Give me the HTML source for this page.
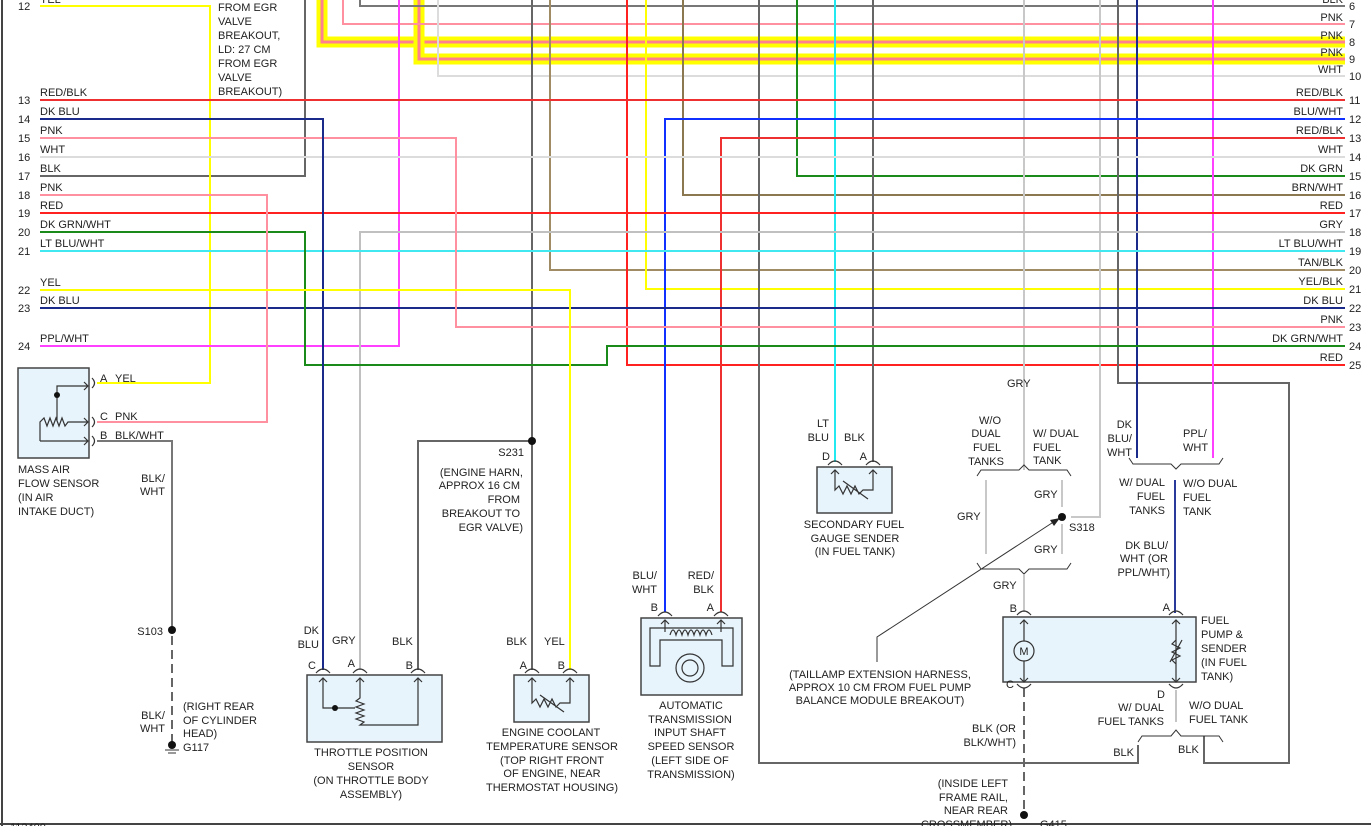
<!DOCTYPE html>
<html><head><meta charset="utf-8"><style>
html,body{margin:0;padding:0;background:#fff;}
svg{display:block;}
text{font-family:"Liberation Sans",Arial,sans-serif;font-size:11px;fill:#222;}
.r{text-anchor:end}.m{text-anchor:middle}
</style></head><body>
<svg width="1371" height="826" viewBox="0 0 1371 826" xmlns="http://www.w3.org/2000/svg">
<g fill="none" stroke-width="2">
<!-- border -->
<line x1="2" y1="0" x2="2" y2="826" stroke="#444"/>
<line x1="0" y1="824" x2="1371" y2="824" stroke="#444"/>
<!-- thick wires -->
<path d="M322 0V42H1345" stroke="#ffff00" stroke-width="11"/>
<path d="M322 0V42H1345" stroke="#ff8090" stroke-width="3"/>
<path d="M419 0V59H1345" stroke="#ffff00" stroke-width="11"/>
<path d="M419 0V59H1345" stroke="#ff8090" stroke-width="3"/>
<!-- top verticals -->
<path d="M40 176H305V0" stroke="#666"/>
<path d="M40 6H210V383H97" stroke="#ffff00"/>
<path d="M343 0V24H1345" stroke="#ff90a0"/>
<path d="M360 0V6H1345" stroke="#777"/>
<path d="M438 0V76H1345" stroke="#dcdcdc"/>
<path d="M399 0V346H40" stroke="#ff40ff"/>
<path d="M532 0V670" stroke="#666"/>
<path d="M550 0V270H1345" stroke="#a08c64"/>
<path d="M627 0V365H1345" stroke="#ff2020"/>
<path d="M646 0V289H1345" stroke="#ffff00"/>
<path d="M683 0V195H1345" stroke="#8b7850"/>
<path d="M759 0V763H1138V745" stroke="#666"/>
<path d="M797 0V176H1345" stroke="#1a8a1a"/>
<path d="M835 0V462" stroke="#22e8f0"/>
<path d="M873 0V462" stroke="#666"/>
<path d="M1024 0V470" stroke="#c8c8c8"/>
<path d="M1100 0V517H1071" stroke="#c8c8c8"/>
<path d="M1118 0V383H1289V763H1204V736" stroke="#666"/>
<path d="M1137 0V458" stroke="#1a2a8a"/>
<path d="M1213 0V458" stroke="#ff40ff"/>
<!-- rows -->
<path d="M40 100H1345" stroke="#ee3030"/>
<path d="M665 612V119H1345" stroke="#1030ff"/>
<path d="M721 612V138H1345" stroke="#ee3030"/>
<path d="M40 157H1345" stroke="#dcdcdc"/>
<path d="M40 213H1345" stroke="#ff2020"/>
<path d="M360 670V232H1345" stroke="#c0c0c0"/>
<path d="M40 251H1345" stroke="#40e8f0"/>
<path d="M40 308H1345" stroke="#1a2a8a"/>
<path d="M40 138H456V327H1345" stroke="#ff90a0"/>
<path d="M40 232H305V365H607V346H1345" stroke="#1a8a1a"/>
<path d="M40 119H323V670" stroke="#1a2a8a"/>
<path d="M40 195H267V422H97" stroke="#ff90a0"/>
<path d="M40 290H570V670" stroke="#ffff00"/>
<path d="M97 441H172V630" stroke="#777"/>
<path d="M172 636V745" stroke="#666" stroke-dasharray="9,5"/>
<path d="M418 670V441H532" stroke="#666"/>
<!-- fuel area -->
<path d="M986 480V554M1062 480V507M1062 524V554M1024 575V612" stroke="#c8c8c8"/>
<path d="M1175 480V613" stroke="#2a3a9a"/>
<path d="M1024 688V815" stroke="#666" stroke-dasharray="9,5"/>
<path d="M1176 690V722" stroke="#888" stroke-width="1"/>
</g>
<g fill="none" stroke="#333" stroke-width="1">
<!-- braces -->
<path d="M977 476L981 470H1019L1024 465L1029 470H1067L1071 476"/>
<path d="M977 563L981 569H1019L1024 574L1029 569H1067L1071 563"/>
<path d="M1129 458L1133 464H1171L1176 469L1181 464H1219L1223 458"/>
<path d="M1138 742L1142 736H1171L1176 730L1181 736H1219L1223 742"/>
<!-- leader -->
<path d="M877 662V637L1055 521"/>
</g>
<polygon points="1060,518 1050,520 1054,526" fill="#222"/>
<!-- boxes -->
<g stroke="#444" stroke-width="1.5" fill="#e8f4fc">
<rect x="18" y="368" width="71" height="90"/>
<rect x="307" y="675" width="135" height="67"/>
<rect x="514" y="675" width="75" height="47"/>
<rect x="641" y="618" width="101" height="77"/>
<rect x="817" y="467" width="75" height="46"/>
<rect x="1003" y="617" width="193" height="65"/>
</g>
<g fill="none" stroke="#333" stroke-width="1.2">
<!-- connector arcs -->
<path d="M92 378Q97 383 92 388M92 417Q97 422 92 427M92 436Q97 441 92 446"/>
<path d="M316 673Q323 665 330 673M353 673Q360 665 367 673M411 673Q418 665 425 673"/>
<path d="M525 673Q532 665 539 673M563 673Q570 665 577 673"/>
<path d="M658 616Q665 608 672 616M714 616Q721 608 728 616"/>
<path d="M828 465Q835 457 842 465M866 465Q873 457 880 465"/>
<path d="M1017 615Q1024 607 1031 615M1169 615Q1176 607 1183 615"/>
<path d="M1017 684Q1024 692 1031 684M1169 684Q1176 692 1183 684"/>
<!-- MAF internals -->
<path d="M57 420V386H88M84 382L88 386L84 390M40 441V422L44 418L47 426L50 418L53 426L56 418L59 426L62 418L65 426L68 422H88M84 418L88 422L84 426M40 441H88M84 437L88 441L84 445M57 386V417"/>
<!-- TPS -->
<path d="M323 678V708H355M360 678V698L356 701L364 704L356 707L364 710L356 713L364 716L356 719L364 722L360 725H418V678M319 682L323 678L327 682M356 682L360 678L364 682M414 682L418 678L422 682"/>
<!-- ECT -->
<path d="M532 678V703L536 699L540 707L544 699L548 707L552 699L556 707L560 703H570V678M528 682L532 678L536 682M566 682L570 678L574 682M540 695L564 712"/>
<!-- secondary -->
<path d="M835 470V490L839 486L843 494L847 486L851 494L855 486L859 494L863 490H873V470M831 474L835 470L839 474M869 474L873 470L877 474M843 481L868 499"/>
<!-- trans -->
<path d="M665 620V632M721 620V632M661 624L665 620L669 624M717 624L721 620L725 624M650 628H733V666H722V640H660V666H650Z"/>
<path d="M670 635Q673 625 676 635Q679 625 682 635Q685 625 688 635Q691 625 694 635Q697 625 700 635Q703 625 706 635Q709 625 712 635"/>
<circle cx="690" cy="668" r="14"/><circle cx="690" cy="668" r="8"/>
<!-- pump -->
<path d="M1024 620V682M1020 624L1024 620L1028 624M1020 678L1024 682L1028 678"/>
<circle cx="1024" cy="651" r="10" fill="#e8f4fc"/>
<path d="M1176 620V682M1172 624L1176 620L1180 624M1172 678L1176 682L1180 678M1176 640L1172 644L1180 648L1172 652L1180 656L1172 660L1176 664M1170 662L1182 640"/>
</g>
<text x="1024" y="655" class="m" font-size="10">M</text>
<g fill="#111">
<circle cx="57" cy="395" r="3"/><circle cx="335" cy="708" r="3"/>
<circle cx="532" cy="441" r="4"/><circle cx="172" cy="630" r="4"/>
<circle cx="172" cy="745" r="4"/><circle cx="1062" cy="517" r="4"/>
<circle cx="1024" cy="815" r="4"/>
</g>
<path d="M165 750H179M168 753H176" stroke="#333"/>
<!-- left labels -->
<g>
<text x="18" y="10">12</text><text x="40" y="3">YEL</text>
<text x="18" y="104">13</text><text x="40" y="96">RED/BLK</text>
<text x="18" y="123">14</text><text x="40" y="115">DK BLU</text>
<text x="18" y="142">15</text><text x="40" y="134">PNK</text>
<text x="18" y="161">16</text><text x="40" y="153">WHT</text>
<text x="18" y="180">17</text><text x="40" y="172">BLK</text>
<text x="18" y="199">18</text><text x="40" y="191">PNK</text>
<text x="18" y="217">19</text><text x="40" y="209">RED</text>
<text x="18" y="236">20</text><text x="40" y="228">DK GRN/WHT</text>
<text x="18" y="255">21</text><text x="40" y="247">LT BLU/WHT</text>
<text x="18" y="294">22</text><text x="40" y="286">YEL</text>
<text x="18" y="312">23</text><text x="40" y="304">DK BLU</text>
<text x="18" y="350">24</text><text x="40" y="342">PPL/WHT</text>
</g>
<g class="r">
<text x="1343" y="3" class="r">BLK</text>
<text x="1343" y="21" class="r">PNK</text><text x="1343" y="39" class="r">PNK</text>
<text x="1343" y="56" class="r">PNK</text><text x="1343" y="73" class="r">WHT</text>
<text x="1343" y="96" class="r">RED/BLK</text><text x="1343" y="115" class="r">BLU/WHT</text>
<text x="1343" y="134" class="r">RED/BLK</text><text x="1343" y="153" class="r">WHT</text>
<text x="1343" y="172" class="r">DK GRN</text><text x="1343" y="191" class="r">BRN/WHT</text>
<text x="1343" y="209" class="r">RED</text><text x="1343" y="228" class="r">GRY</text>
<text x="1343" y="247" class="r">LT BLU/WHT</text><text x="1343" y="266" class="r">TAN/BLK</text>
<text x="1343" y="285" class="r">YEL/BLK</text><text x="1343" y="304" class="r">DK BLU</text>
<text x="1343" y="323" class="r">PNK</text><text x="1343" y="342" class="r">DK GRN/WHT</text>
<text x="1343" y="361" class="r">RED</text>
</g>
<g>
<text x="1349" y="10">6</text><text x="1349" y="28">7</text><text x="1349" y="46">8</text>
<text x="1349" y="63">9</text><text x="1349" y="80">10</text><text x="1349" y="104">11</text>
<text x="1349" y="123">12</text><text x="1349" y="142">13</text><text x="1349" y="161">14</text>
<text x="1349" y="180">15</text><text x="1349" y="199">16</text><text x="1349" y="217">17</text>
<text x="1349" y="236">18</text><text x="1349" y="255">19</text><text x="1349" y="274">20</text>
<text x="1349" y="293">21</text><text x="1349" y="312">22</text><text x="1349" y="331">23</text>
<text x="1349" y="350">24</text><text x="1349" y="369">25</text>
</g>
<g>
<text x="218" y="11">FROM EGR</text><text x="218" y="25">VALVE</text><text x="218" y="39">BREAKOUT,</text>
<text x="218" y="53">LD: 27 CM</text><text x="218" y="67">FROM EGR</text><text x="218" y="81">VALVE</text>
<text x="218" y="95">BREAKOUT)</text>
<text x="100" y="382">A</text><text x="115" y="382">YEL</text>
<text x="100" y="420">C</text><text x="115" y="420">PNK</text>
<text x="100" y="439">B</text><text x="115" y="439">BLK/WHT</text>
<text x="18" y="473">MASS AIR</text><text x="18" y="487">FLOW SENSOR</text>
<text x="18" y="501">(IN AIR</text><text x="18" y="515">INTAKE DUCT)</text>
<text x="165" y="482" class="r">BLK/</text><text x="165" y="495" class="r">WHT</text>
<text x="163" y="635" class="r">S103</text>
<text x="165" y="719" class="r">BLK/</text><text x="165" y="732" class="r">WHT</text>
<text x="183" y="710">(RIGHT REAR</text><text x="183" y="724">OF CYLINDER</text><text x="183" y="737">HEAD)</text>
<text x="183" y="751">G117</text>
<text x="319" y="634" class="r">DK</text><text x="319" y="648" class="r">BLU</text>
<text x="332" y="644">GRY</text><text x="392" y="645">BLK</text>
<text x="316" y="669" class="r">C</text><text x="355" y="667" class="r">A</text><text x="413" y="669" class="r">B</text>
<text x="371" y="756" class="m">THROTTLE POSITION</text><text x="371" y="770" class="m">SENSOR</text>
<text x="371" y="784" class="m">(ON THROTTLE BODY</text><text x="371" y="798" class="m">ASSEMBLY)</text>
<text x="524" y="456" class="r">S231</text>
<text x="523" y="476" class="r">(ENGINE HARN,</text><text x="520" y="489" class="r">APPROX 16 CM</text>
<text x="520" y="503" class="r">FROM</text><text x="520" y="517" class="r">BREAKOUT TO</text>
<text x="523" y="531" class="r">EGR VALVE)</text>
<text x="527" y="645" class="r">BLK</text><text x="544" y="645">YEL</text>
<text x="527" y="669" class="r">A</text><text x="565" y="669" class="r">B</text>
<text x="551" y="736" class="m">ENGINE COOLANT</text><text x="552" y="750" class="m">TEMPERATURE SENSOR</text>
<text x="552" y="764" class="m">(TOP RIGHT FRONT</text><text x="552" y="777" class="m">OF ENGINE, NEAR</text>
<text x="552" y="791" class="m">THERMOSTAT HOUSING)</text>
<text x="657" y="579" class="r">BLU/</text><text x="657" y="593" class="r">WHT</text>
<text x="714" y="579" class="r">RED/</text><text x="714" y="593" class="r">BLK</text>
<text x="658" y="611" class="r">B</text><text x="714" y="611" class="r">A</text>
<text x="691" y="709" class="m">AUTOMATIC</text><text x="690" y="723" class="m">TRANSMISSION</text>
<text x="690" y="736" class="m">INPUT SHAFT</text><text x="691" y="750" class="m">SPEED SENSOR</text>
<text x="690" y="764" class="m">(LEFT SIDE OF</text><text x="691" y="778" class="m">TRANSMISSION)</text>
<text x="829" y="427" class="r">LT</text><text x="829" y="441" class="r">BLU</text>
<text x="844" y="441">BLK</text>
<text x="830" y="460" class="r">D</text><text x="867" y="460" class="r">A</text>
<text x="854" y="528" class="m">SECONDARY FUEL</text><text x="855" y="542" class="m">GAUGE SENDER</text>
<text x="855" y="555" class="m">(IN FUEL TANK)</text>
<text x="1007" y="387">GRY</text>
<text x="990" y="424" class="m">W/O</text><text x="986" y="437" class="m">DUAL</text>
<text x="987" y="451" class="m">FUEL</text><text x="986" y="465" class="m">TANKS</text>
<text x="1033" y="437">W/ DUAL</text><text x="1033" y="451">FUEL</text><text x="1033" y="464">TANK</text>
<text x="1034" y="498">GRY</text><text x="957" y="520">GRY</text><text x="1069" y="531">S318</text>
<text x="1034" y="553">GRY</text><text x="993" y="589">GRY</text>
<text x="1017" y="612" class="r">B</text><text x="1014" y="688" class="r">C</text>
<text x="1016" y="732" class="r">BLK (OR</text><text x="1016" y="746" class="r">BLK/WHT)</text>
<text x="880" y="678" class="m">(TAILLAMP EXTENSION HARNESS,</text>
<text x="880" y="691" class="m">APPROX 10 CM FROM FUEL PUMP</text>
<text x="880" y="704" class="m">BALANCE MODULE BREAKOUT)</text>
<text x="1008" y="787" class="r">(INSIDE LEFT</text><text x="1008" y="801" class="r">FRAME RAIL,</text>
<text x="1008" y="814" class="r">NEAR REAR</text><text x="1012" y="828" class="r">CROSSMEMBER)</text>
<text x="1040" y="828">G415</text>
<text x="1132" y="428" class="r">DK</text><text x="1132" y="442" class="r">BLU/</text><text x="1132" y="456" class="r">WHT</text>
<text x="1183" y="437">PPL/</text><text x="1183" y="451">WHT</text>
<text x="1165" y="486" class="r">W/ DUAL</text><text x="1165" y="500" class="r">FUEL</text><text x="1165" y="514" class="r">TANKS</text>
<text x="1183" y="487">W/O DUAL</text><text x="1183" y="501">FUEL</text><text x="1183" y="515">TANK</text>
<text x="1168" y="549" class="r">DK BLU/</text><text x="1168" y="562" class="r">WHT (OR</text>
<text x="1170" y="576" class="r">PPL/WHT)</text>
<text x="1170" y="611" class="r">A</text>
<text x="1201" y="624">FUEL</text><text x="1201" y="638">PUMP &amp;</text><text x="1201" y="652">SENDER</text>
<text x="1201" y="666">(IN FUEL</text><text x="1201" y="680">TANK)</text>
<text x="1165" y="698" class="r">D</text>
<text x="1164" y="711" class="r">W/ DUAL</text><text x="1164" y="725" class="r">FUEL TANKS</text>
<text x="1189" y="709">W/O DUAL</text><text x="1189" y="723">FUEL TANK</text>
<text x="1134" y="756" class="r">BLK</text><text x="1178" y="753">BLK</text>
<text x="10" y="831">113400</text>
</g>
</svg>
</body></html>
